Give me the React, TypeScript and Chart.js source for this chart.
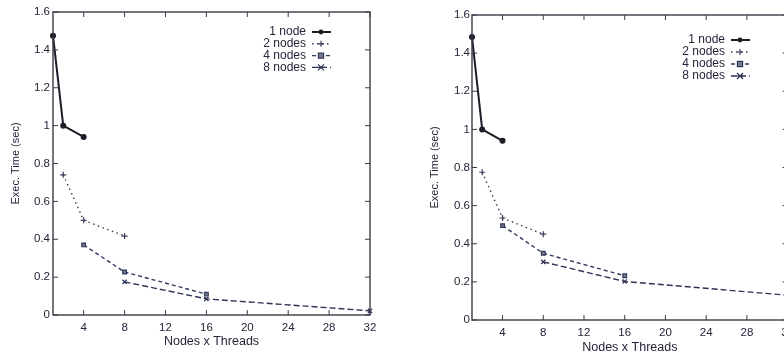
import React, { useEffect, useRef } from 'react';
import { Chart, registerables } from 'chart.js';

Chart.register(...registerables);

// ---- data ----
const seriesLabels = ['1 node', '2 nodes', '4 nodes', '8 nodes'];
const x1Node = [1, 2, 4];
const x2Nodes = [2, 4, 8];
const x4Nodes = [4, 8, 16];
const x8Nodes = [8, 16, 32];

const leftY1Node = [1.475, 1.0, 0.94];
const leftY2Nodes = [0.74, 0.5, 0.417];
const leftY4Nodes = [0.37, 0.227, 0.11];
const leftY8Nodes = [0.175, 0.085, 0.022];

const rightY1Node = [1.485, 1.0, 0.94];
const rightY2Nodes = [0.775, 0.535, 0.45];
const rightY4Nodes = [0.495, 0.35, 0.232];
const rightY8Nodes = [0.305, 0.202, 0.13];

const xTicks = [4, 8, 12, 16, 20, 24, 28, 32];
const yTicks = [0, 0.2, 0.4, 0.6, 0.8, 1, 1.2, 1.4, 1.6];

const FONT = '"Liberation Sans", Arial, Helvetica, sans-serif';
const TEXT = '#25253a';

const seriesStyles = [
  { color: '#1c1c26', width: 2, dash: [] as number[], point: 'circle', r: 2.4 },
  { color: '#3a3d58', width: 1.4, dash: [1.5, 3.5], point: 'cross', r: 3 },
  { color: '#30385c', width: 1.4, dash: [4, 3], point: 'rect', r: 2.6 },
  { color: '#2c3354', width: 1.4, dash: [6, 3], point: 'crossRot', r: 3 },
];

function drawMarker(ctx: CanvasRenderingContext2D, style: string, x: number, y: number, r: number, color: string) {
  ctx.save();
  ctx.setLineDash([]);
  ctx.strokeStyle = color;
  ctx.fillStyle = color;
  ctx.lineWidth = 1.2;
  ctx.beginPath();
  if (style === 'circle') {
    ctx.arc(x, y, r, 0, Math.PI * 2);
    ctx.fill();
  } else if (style === 'cross') {
    ctx.moveTo(x - r, y); ctx.lineTo(x + r, y);
    ctx.moveTo(x, y - r); ctx.lineTo(x, y + r);
    ctx.stroke();
  } else if (style === 'rect') {
    ctx.rect(x - r, y - r, 2 * r, 2 * r);
    ctx.fillStyle = '#777a8a';
    ctx.fill();
    ctx.stroke();
  } else {
    ctx.moveTo(x - r, y - r); ctx.lineTo(x + r, y + r);
    ctx.moveTo(x - r, y + r); ctx.lineTo(x + r, y - r);
    ctx.moveTo(x - r, y); ctx.lineTo(x + r, y);
    ctx.stroke();
  }
  ctx.restore();
}

const gnuPlugin = {
  id: 'gnuFrame',
  afterDatasetsDraw(chart: any, _args: any, opts: any) {
    const { ctx, chartArea: a, scales } = chart;
    ctx.save();
    // frame
    ctx.strokeStyle = '#3b3b48';
    ctx.lineWidth = 1.4;
    ctx.setLineDash([]);
    ctx.strokeRect(a.left, a.top, a.right - a.left, a.bottom - a.top);
    // inward ticks
    const tl = 5;
    ctx.lineWidth = 1;
    ctx.beginPath();
    xTicks.forEach((v) => {
      const px = scales.x.getPixelForValue(v);
      ctx.moveTo(px, a.bottom); ctx.lineTo(px, a.bottom - tl);
      ctx.moveTo(px, a.top); ctx.lineTo(px, a.top + tl);
    });
    yTicks.forEach((v) => {
      const py = scales.y.getPixelForValue(v);
      ctx.moveTo(a.left, py); ctx.lineTo(a.left + tl, py);
      ctx.moveTo(a.right, py); ctx.lineTo(a.right - tl, py);
    });
    ctx.stroke();
    // key
    ctx.font = `12px ${FONT}`;
    ctx.textAlign = 'right';
    ctx.textBaseline = 'middle';
    chart.data.datasets.forEach((ds: any, i: number) => {
      const st = seriesStyles[i];
      const y = a.top + opts.keyTop + i * opts.keyStep;
      ctx.fillStyle = TEXT;
      ctx.fillText(ds.label, a.left + 253, y);
      ctx.strokeStyle = st.color;
      ctx.lineWidth = st.width;
      ctx.setLineDash(st.dash);
      ctx.beginPath();
      ctx.moveTo(a.left + 259, y);
      ctx.lineTo(a.left + 278, y);
      ctx.stroke();
      drawMarker(ctx, st.point, a.left + 268, y, st.r, st.color);
    });
    ctx.restore();
  },
};

function makeDatasets(ys: number[][]) {
  const xs = [x1Node, x2Nodes, x4Nodes, x8Nodes];
  return ys.map((yv, i) => {
    const st = seriesStyles[i];
    return {
      label: seriesLabels[i],
      data: xs[i].map((x, j) => ({ x, y: yv[j] })),
      borderColor: st.color,
      backgroundColor: st.point === 'rect' ? '#777a8a' : st.color,
      borderWidth: st.width,
      borderDash: st.dash,
      pointStyle: st.point,
      pointRadius: st.r,
      pointBorderWidth: 1.2,
      pointBorderColor: st.color,
      tension: 0,
      clip: false,
    };
  });
}

type Geo = {
  axisW: number; axisH: number; padTop: number; padRight: number;
  yTitlePad: number; yTickPad: number; xTickPad: number; xTitlePadBottom: number;
  keyTop: number; keyStep: number;
};

function makeConfig(ys: number[][], g: Geo): any {
  return {
    type: 'line',
    data: { datasets: makeDatasets(ys) },
    plugins: [gnuPlugin],
    options: {
      responsive: false,
      animation: false,
      layout: { padding: { top: g.padTop, right: g.padRight, left: 0, bottom: 0 } },
      plugins: {
        legend: { display: false },
        tooltip: { enabled: false },
        gnuFrame: { keyTop: g.keyTop, keyStep: g.keyStep },
      },
      scales: {
        x: {
          type: 'linear',
          min: 1,
          max: 32,
          afterBuildTicks: (s: any) => { s.ticks = xTicks.map((v) => ({ value: v })); },
          afterFit: (s: any) => { s.height = g.axisH; },
          grid: { display: false, drawTicks: false },
          border: { display: false },
          ticks: { padding: g.xTickPad, color: TEXT, font: { family: FONT, size: 11.5 }, maxRotation: 0, autoSkip: false },
          title: { display: true, text: 'Nodes x Threads', color: TEXT, font: { family: FONT, size: 12.5 }, padding: { top: 0, bottom: g.xTitlePadBottom } },
        },
        y: {
          type: 'linear',
          min: 0,
          max: 1.6,
          afterBuildTicks: (s: any) => { s.ticks = yTicks.map((v) => ({ value: v })); },
          afterFit: (s: any) => { s.width = g.axisW; },
          grid: { display: false, drawTicks: false },
          border: { display: false },
          ticks: {
            padding: g.yTickPad, color: TEXT, font: { family: FONT, size: 11.5 },
            callback: (v: any) => String(+Number(v).toFixed(1)),
          },
          title: { display: true, text: 'Exec. Time (sec)', color: TEXT, font: { family: FONT, size: 11 }, padding: { top: g.yTitlePad, bottom: 0 } },
        },
      },
    },
  };
}

export default function App() {
  const leftRef = useRef<HTMLCanvasElement>(null);
  const rightRef = useRef<HTMLCanvasElement>(null);

  useEffect(() => {
    const left = new Chart(leftRef.current!, makeConfig(
      [leftY1Node, leftY2Nodes, leftY4Nodes, leftY8Nodes],
      { axisW: 53, axisH: 38, padTop: 12, padRight: 30, yTitlePad: 9, yTickPad: 3, xTickPad: 6, xTitlePadBottom: 4, keyTop: 20, keyStep: 11.8 },
    ));
    const right = new Chart(rightRef.current!, makeConfig(
      [rightY1Node, rightY2Nodes, rightY4Nodes, rightY8Nodes],
      { axisW: 72, axisH: 33, padTop: 15, padRight: 12, yTitlePad: 28, yTickPad: 2, xTickPad: 6, xTitlePadBottom: -2, keyTop: 25, keyStep: 12 },
    ));
    return () => { left.destroy(); right.destroy(); };
  }, []);

  return (
    <div style={{ position: 'fixed', left: 0, top: 0, width: 784, height: 353, overflow: 'hidden', background: '#fff' }}>
      <canvas ref={leftRef} width={400} height={353} style={{ position: 'absolute', left: 0, top: 0 }} />
      <canvas ref={rightRef} width={400} height={353} style={{ position: 'absolute', left: 400, top: 0 }} />
    </div>
  );
}
